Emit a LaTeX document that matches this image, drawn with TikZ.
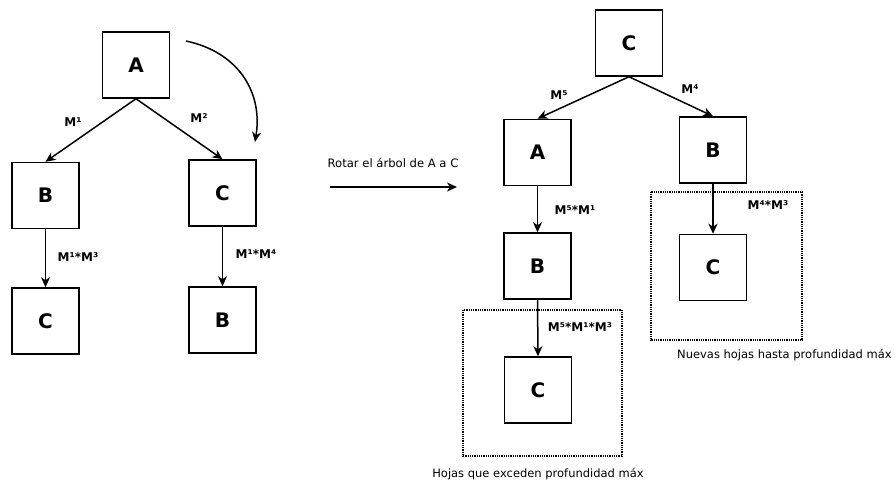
\documentclass[tikz,border=0pt]{standalone}
\usepackage{fontspec}
\setmainfont{DejaVu Sans}
\usetikzlibrary{arrows.meta}
\tikzset{
  box/.style={draw, line width=1.5pt, minimum width=67pt, minimum height=66pt, inner sep=0pt, font=\bfseries\fontsize{20}{20}\selectfont},
  arr/.style={line width=1.5pt, -{Stealth[length=10pt,width=9pt,inset=3pt]}},
  lab/.style={font=\bfseries\fontsize{12}{12}\selectfont, inner sep=0pt},
  txt/.style={font=\fontsize{11.6}{12}\selectfont, inner sep=0pt},
  captxt/.style={font=\fontsize{11.5}{12}\selectfont, inner sep=0pt},
  frame/.style={line width=2.4pt, dash pattern=on 0.9pt off 0.9pt}
}
\begin{document}
\begin{tikzpicture}[x=1pt,y=-1pt]
\useasboundingbox (0,0) rectangle (895,484);
% left tree
\node[box] (A1) at (136,65) {A};
\node[box] (B1) at (45.5,195.5) {B};
\node[box] (C1) at (222.5,193) {C};
\node[box] (C2) at (45.5,321) {C};
\node[box] (B2) at (222.5,320) {B};
\draw[arr] (A1.south) -- (B1.north);
\draw[arr] (A1.south) -- (C1.north);
\draw[arr] (B1.south) -- (C2.north);
\draw[arr] (C1.south) -- (B2.north);
\node[lab] (l1) at (73,122) {M¹};
\node[lab] (l2) at (199,118) {M²};
\node[lab] (l3) at (78,257) {M¹*M³};
\node[lab] (l4) at (256,254) {M¹*M⁴};
\coordinate (cs) at (186,41);
\coordinate (ce) at (255,142);
\draw[arr] (cs) .. controls (238,52) and (263,92) .. (ce);
% middle
\node[txt] (rot) at (393,163) {Rotar el árbol de A a C};
\coordinate (ra) at (330,187);
\coordinate (rb) at (457,187);
\draw[arr] (ra) -- (rb);
% right tree
\node[box] (C3) at (629,43) {C};
\node[box] (A3) at (537.5,152.5) {A};
\node[box] (B3) at (537.5,266) {B};
\node[box] (C4) at (538,390) {C};
\node[box] (B4) at (713,150) {B};
\node[box] (C5) at (713,267.5) {C};
\draw[arr] (C3.south) -- (A3.north);
\draw[arr] (C3.south) -- (B4.north);
\draw[arr] (A3.south) -- (B3.north);
\draw[arr] (B3.south) -- (C4.north);
\draw[arr] (B4.south) -- (C5.north);
\node[lab] (l5) at (559,95) {M⁵};
\node[lab] (l6) at (690,89) {M⁴};
\node[lab] (l7) at (575,210) {M⁵*M¹};
\node[lab] (l8) at (580,327) {M⁵*M¹*M³};
\node[lab] (l9) at (768,205) {M⁴*M³};
\draw[frame] (463,310) rectangle (622,456);
\draw[frame] (651,192) rectangle (802,340);
\node[captxt] (h1) at (538,474) {Hojas que exceden profundidad máx};
\node[captxt,anchor=west] (h2) at (677,355) {Nuevas hojas hasta profundidad máx};
\end{tikzpicture}
\end{document}
